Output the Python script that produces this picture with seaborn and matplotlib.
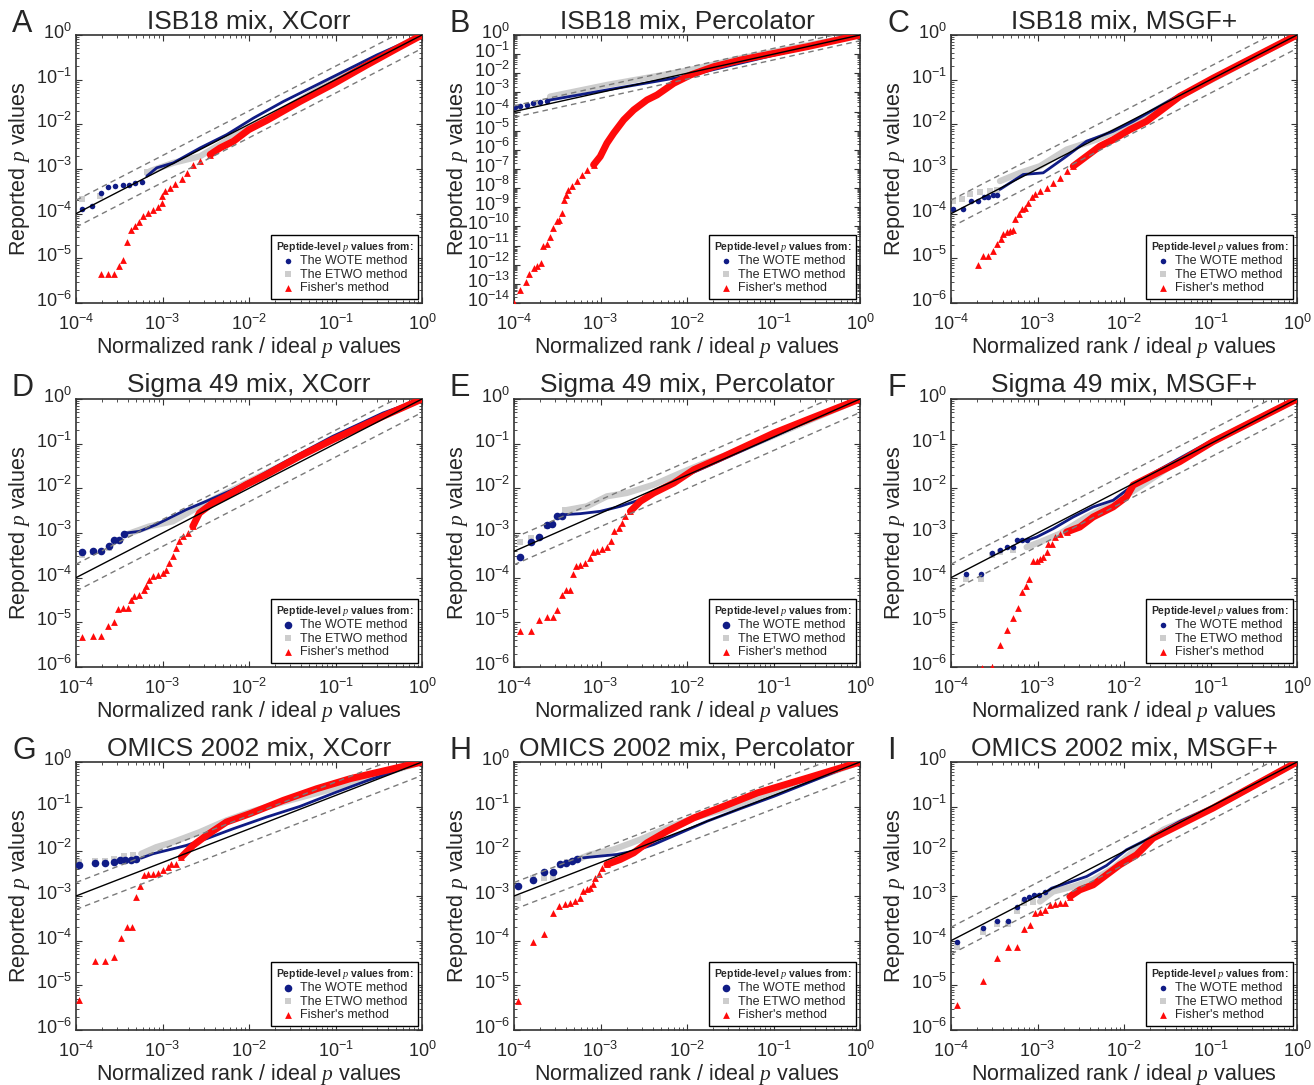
import numpy as np
import pandas as pd
import matplotlib
matplotlib.use("Agg")
import matplotlib.pyplot as plt
import matplotlib.transforms as mtransforms
import seaborn as sns
from matplotlib.ticker import LogLocator, NullFormatter, FixedLocator

# ---------------- data (log10 exponents: (x, y)) ----------------
A_wote_pts = [(-3.934,-3.889),(-3.819,-3.829),(-3.715,-3.532),(-3.626,-3.405),(-3.549,-3.383),(-3.460,-3.368),(-3.383,-3.353),(-3.317,-3.323),(-3.240,-3.286)]
A_wote_band = [(-3.182,-3.160),(-3.067,-2.974),(-2.874,-2.862),(-2.565,-2.528),(-2.257,-2.230),(-1.948,-1.859),(-1.601,-1.487),(-1.022,-0.929),(-0.521,-0.446),(0,0)]
A_etwo_pts = [(-3.934,-3.680),(-3.722,-3.606),(-3.182,-3.071)]
A_etwo_band = [(-3.144,-3.048),(-2.874,-2.862),(-2.565,-2.714),(-2.179,-2.268),(-1.794,-1.896),(-1.022,-1.004),(0,0)]
A_fisher_pts = [(-3.711,-5.353),(-3.626,-5.353),(-3.556,-5.353),(-3.502,-5.182),(-3.452,-5.033),(-3.406,-4.632),(-3.364,-4.372),(-3.317,-4.275),(-3.267,-4.186),(-3.221,-4.052),(-3.163,-3.978),(-3.105,-3.918),(-3.047,-3.844),(-3.009,-3.770),(-3.001,-3.606),(-2.970,-3.494),(-2.912,-3.420),(-2.854,-3.346),(-2.777,-3.234),(-2.719,-3.100),(-2.642,-2.900),(-2.565,-2.825),(-2.449,-2.677)]
A_fisher_band = [(-2.449,-2.677),(-2.334,-2.528),(-2.179,-2.379),(-2.002,-2.119),(-1.794,-1.911),(-1.408,-1.487),(-1.022,-1.093),(-0.636,-0.669),(-0.251,-0.260),(0,0)]

B_wote_pts = [(-3.988,-3.774),(-3.930,-3.704),(-3.853,-3.635),(-3.776,-3.565),(-3.699,-3.478),(-3.621,-3.426)]
B_wote_band = [(-3.621,-3.426),(-2.926,-2.870),(-1.998,-2.139),(-0.993,-1.050),(0,0)]
B_etwo_pts = [(-3.95,-3.85),(-3.75,-3.60)]
B_etwo_band = [(-3.583,-3.217),(-2.926,-2.609),(-1.998,-1.861),(-1.380,-1.217),(0,0)]
B_fisher_pts = [(-4.0,-14.0),(-3.930,-13.304),(-3.861,-12.922),(-3.822,-12.487),(-3.768,-12.174),(-3.737,-12.09),(-3.691,-11.913),(-3.660,-11.009),(-3.621,-10.904),(-3.583,-10.557),(-3.544,-10.087),(-3.505,-9.739),(-3.474,-9.65),(-3.447,-9.304),(-3.420,-8.609),(-3.397,-8.348),(-3.370,-8.087),(-3.331,-7.913),(-3.273,-7.652),(-3.215,-7.304),(-3.157,-7.078),(-3.080,-6.783)]
B_fisher_band = [(-3.080,-6.783),(-3.003,-6.348),(-2.926,-5.652),(-2.848,-5.130),(-2.732,-4.435),(-2.616,-3.913),(-2.462,-3.391),(-2.346,-3.130),(-2.153,-2.522),(-1.959,-2.087),(-1.689,-1.652),(-1.380,-1.304),(-0.993,-0.957),(-0.607,-0.609),(0,0)]

C_wote_pts = [(-3.981,-3.889),(-3.865,-3.889),(-3.773,-3.725),(-3.684,-3.725),(-3.619,-3.621),(-3.569,-3.621),(-3.519,-3.591),(-3.473,-3.591)]
C_wote_band = [(-3.434,-3.457),(-3.165,-3.123),(-2.934,-3.086),(-2.664,-2.714),(-2.433,-2.379),(-2.125,-2.156),(-1.894,-1.933),(-1.355,-1.338),(0,0)]
C_etwo_pts = [(-3.981,-3.717),(-3.877,-3.680),(-3.781,-3.569),(-3.665,-3.517),(-3.55,-3.50),(-3.47,-3.46)]
C_etwo_band = [(-3.434,-3.271),(-3.203,-3.086),(-2.972,-2.937),(-2.664,-2.565),(-2.318,-2.342),(-1.933,-2.007),(-1.355,-1.375),(0,0)]
C_fisher_pts = [(-3.692,-5.145),(-3.627,-4.944),(-3.569,-4.944),(-3.511,-4.833),(-3.473,-4.684),(-3.427,-4.572),(-3.396,-4.461),(-3.357,-4.42),(-3.319,-4.387),(-3.28,-4.36),(-3.261,-4.126),(-3.211,-4.015),(-3.184,-3.903),(-3.145,-3.88),(-3.107,-3.755),(-3.068,-3.621),(-3.030,-3.569),(-2.972,-3.494),(-2.895,-3.420),(-2.818,-3.309),(-2.741,-3.197),(-2.664,-3.048),(-2.587,-2.937)]
C_fisher_band = [(-2.587,-2.937),(-2.433,-2.714),(-2.279,-2.491),(-2.125,-2.342),(-1.933,-2.119),(-1.740,-1.933),(-1.355,-1.375),(-0.970,-0.967),(0,0)]

D_wote_pts = [(-3.931,-3.433),(-3.807,-3.396),(-3.711,-3.396),(-3.614,-3.299),(-3.556,-3.149),(-3.499,-3.149),(-3.441,-3.015)]
D_wote_band = [(-3.421,-3.000),(-3.267,-2.963),(-3.074,-2.813),(-2.881,-2.627),(-2.727,-2.478),(-2.496,-2.291),(-2.187,-2.030),(-1.956,-1.806),(-1.608,-1.433),(-1.030,-0.836),(-0.451,-0.313),(0,0)]
D_etwo_pts = [(-3.931,-3.485),(-3.807,-3.43),(-3.614,-3.33)]
D_etwo_band = [(-3.421,-3.037),(-3.151,-2.851),(-2.881,-2.739),(-2.573,-2.403),(-2.264,-2.104),(-2.033,-1.881),(-1.608,-1.470),(-1.030,-0.873),(0,0)]
D_fisher_pts = [(-3.931,-5.328),(-3.807,-5.313),(-3.711,-5.313),(-3.634,-5.075),(-3.556,-4.993),(-3.510,-4.701),(-3.460,-4.679),(-3.402,-4.679),(-3.364,-4.493),(-3.325,-4.418),(-3.267,-4.381),(-3.209,-4.269),(-3.190,-4.194),(-3.151,-4.045),(-3.113,-3.970),(-3.055,-3.933),(-2.997,-3.896),(-2.959,-3.821),(-2.920,-3.672),(-2.881,-3.522),(-2.843,-3.336),(-2.804,-3.187),(-2.766,-3.075),(-2.708,-3.000),(-2.650,-2.851)]
D_fisher_band = [(-2.650,-2.851),(-2.573,-2.552),(-2.419,-2.328),(-2.264,-2.179),(-2.033,-1.918),(-1.801,-1.694),(-1.416,-1.284),(-1.030,-0.910),(-0.451,-0.388),(0,0)]

E_wote_pts = [(-3.930,-3.537),(-3.807,-3.209),(-3.706,-3.090),(-3.621,-2.828),(-3.556,-2.791),(-3.505,-2.627),(-3.447,-2.612)]
E_wote_band = [(-3.428,-2.590),(-3.235,-2.567),(-3.003,-2.515),(-2.771,-2.403),(-2.539,-2.254),(-2.307,-2.030),(-2.075,-1.769),(-1.766,-1.507),(-1.380,-1.172),(-0.993,-0.836),(-0.607,-0.500),(0,0)]
E_etwo_pts = [(-3.930,-3.209),(-3.80,-3.12),(-3.621,-2.851),(-3.409,-2.493)]
E_etwo_band = [(-3.409,-2.493),(-3.157,-2.403),(-2.926,-2.179),(-2.694,-2.104),(-2.384,-1.918),(-2.075,-1.657),(-1.843,-1.470),(-1.380,-1.134),(0,0)]
E_fisher_pts = [(-3.930,-5.201),(-3.807,-5.201),(-3.706,-4.940),(-3.621,-4.888),(-3.552,-4.888),(-3.505,-4.716),(-3.447,-4.388),(-3.397,-4.269),(-3.351,-4.269),(-3.320,-3.918),(-3.281,-3.731),(-3.235,-3.709),(-3.177,-3.672),(-3.127,-3.560),(-3.088,-3.433),(-3.042,-3.410),(-2.984,-3.358),(-2.926,-3.321),(-2.879,-3.187),(-2.848,-2.963),(-2.790,-2.888),(-2.752,-2.776),(-2.713,-2.627),(-2.655,-2.515)]
E_fisher_band = [(-2.655,-2.515),(-2.539,-2.291),(-2.384,-2.104),(-2.153,-1.881),(-1.921,-1.582),(-1.573,-1.284),(-0.993,-0.761),(-0.607,-0.463),(0,0)]

F_wote_pts = [(-3.827,-3.916),(-3.657,-3.916),(-3.526,-3.443),(-3.434,-3.376),(-3.357,-3.316),(-3.280,-3.316),(-3.234,-3.166),(-3.184,-3.166),(-3.126,-3.166)]
F_wote_band = [(-3.126,-3.166),(-3.011,-3.091),(-2.818,-2.903),(-2.587,-2.641),(-2.356,-2.416),(-2.125,-2.266),(-1.971,-2.041),(-1.740,-1.740),(-1.355,-1.328),(-0.970,-0.915),(0,0)]
F_etwo_pts = [(-3.827,-4.029),(-3.657,-4.029),(-3.526,-3.503),(-3.434,-3.428),(-3.280,-3.391)]
F_etwo_band = [(-3.126,-3.316),(-2.972,-3.203),(-2.741,-3.016),(-2.433,-2.641),(-2.125,-2.341),(-1.817,-1.966),(-1.355,-1.365),(-0.970,-0.953),(0,0)]
F_fisher_pts = [(-3.646,-6.03),(-3.530,-5.99),(-3.434,-5.506),(-3.357,-5.176),(-3.288,-4.906),(-3.230,-4.681),(-3.176,-4.329),(-3.138,-4.179),(-3.095,-4.029),(-3.057,-3.631),(-3.011,-3.616),(-2.972,-3.578),(-2.934,-3.541),(-2.895,-3.428),(-2.876,-3.256),(-2.837,-3.241),(-2.799,-3.091),(-2.741,-3.031),(-2.664,-2.978)]
F_fisher_band = [(-2.664,-2.978),(-2.510,-2.866),(-2.356,-2.641),(-2.125,-2.416),(-1.971,-2.191),(-1.894,-1.928),(-1.740,-1.778),(-1.355,-1.403),(-0.970,-0.953),(0,0)]

G_wote_pts = [(-3.961,-2.317),(-3.780,-2.265),(-3.660,-2.265),(-3.556,-2.242),(-3.490,-2.205),(-3.428,-2.205),(-3.362,-2.190),(-3.304,-2.175)]
G_wote_band = [(-3.246,-2.152),(-3.111,-2.055),(-2.957,-1.981),(-2.725,-1.868),(-2.493,-1.719),(-2.184,-1.495),(-1.797,-1.233),(-1.411,-0.994),(-1.024,-0.700),(-0.638,-0.420),(0,0)]
G_etwo_pts = [(-3.961,-2.242),(-3.780,-2.220),(-3.660,-2.220),(-3.556,-2.167),(-3.440,-2.115),(-3.343,-2.093)]
G_etwo_band = [(-3.246,-2.055),(-3.072,-1.906),(-2.879,-1.794),(-2.570,-1.570),(-2.261,-1.308),(-1.990,-1.121),(-1.604,-0.897),(-1.024,-0.598),(-0.638,-0.374),(0,0)]
G_fisher_pts = [(-3.961,-5.329),(-3.780,-4.447),(-3.660,-4.447),(-3.556,-4.357),(-3.478,-3.946),(-3.413,-3.700),(-3.351,-3.700),(-3.304,-3.027),(-3.258,-2.765),(-3.219,-2.541),(-3.169,-2.504),(-3.111,-2.504),(-3.053,-2.489),(-2.995,-2.429),(-2.937,-2.354),(-2.899,-2.294),(-2.841,-2.294),(-2.783,-2.130)]
G_fisher_band = [(-2.783,-2.130),(-2.647,-1.868),(-2.493,-1.644),(-2.261,-1.345),(-1.990,-1.158),(-1.604,-0.859),(-1.217,-0.598),(-0.831,-0.374),(0,0)]

H_wote_pts = [(-3.950,-2.777),(-3.776,-2.651),(-3.652,-2.457),(-3.552,-2.457),(-3.467,-2.278),(-3.397,-2.256),(-3.331,-2.219),(-3.266,-2.182)]
H_wote_band = [(-3.196,-2.144),(-3.003,-2.107),(-2.810,-2.070),(-2.616,-1.996),(-2.384,-1.847),(-2.075,-1.586),(-1.766,-1.325),(-1.380,-1.042),(-0.993,-0.767),(-0.607,-0.469),(0,0)]
H_etwo_pts = [(-3.950,-3.038),(-3.776,-2.591),(-3.652,-2.59),(-3.552,-2.576),(-3.467,-2.30),(-3.39,-2.23)]
H_etwo_band = [(-3.312,-2.219),(-3.119,-2.070),(-2.848,-1.958),(-2.539,-1.735),(-2.230,-1.474),(-1.921,-1.251),(-1.380,-0.953),(0,0)]
H_fisher_pts = [(-3.950,-5.361),(-3.776,-4.021),(-3.652,-3.857),(-3.552,-3.373),(-3.474,-3.232),(-3.409,-3.172),(-3.351,-3.150),(-3.293,-3.112),(-3.242,-3.038),(-3.204,-2.889),(-3.157,-2.852),(-3.119,-2.815),(-3.088,-2.740),(-3.061,-2.591),(-3.022,-2.517),(-2.984,-2.368),(-2.926,-2.293)]
H_fisher_band = [(-2.926,-2.293),(-2.771,-2.182),(-2.616,-2.033),(-2.462,-1.809),(-2.230,-1.549),(-1.921,-1.251),(-1.573,-0.990),(-1.187,-0.692),(-0.607,-0.357),(0,0)]

I_wote_pts = [(-3.935,-4.036),(-3.634,-3.722),(-3.465,-3.550),(-3.338,-3.550),(-3.242,-3.236),(-3.157,-3.072),(-3.095,-3.012),(-3.041,-2.975),(-2.980,-2.975),(-2.914,-2.915)]
I_wote_band = [(-2.876,-2.880),(-2.837,-2.825),(-2.664,-2.713),(-2.433,-2.564),(-2.202,-2.317),(-1.971,-1.966),(-1.740,-1.741),(-1.355,-1.330),(-0.970,-0.994),(0,0)]
I_etwo_pts = [(-3.935,-4.133),(-3.634,-3.812),(-3.465,-3.632),(-3.338,-3.632),(-3.242,-3.333),(-3.157,-3.161),(-3.049,-3.124)]
I_etwo_band = [(-2.972,-3.124),(-2.818,-2.900),(-2.587,-2.788),(-2.356,-2.638),(-2.125,-2.377),(-1.894,-2.003),(-1.548,-1.517),(-0.970,-1.031),(0,0)]
I_fisher_pts = [(-3.927,-5.441),(-3.634,-4.903),(-3.465,-4.395),(-3.338,-4.133),(-3.234,-4.133),(-3.157,-3.737),(-3.088,-3.647),(-3.030,-3.386),(-2.972,-3.348),(-2.914,-3.311),(-2.857,-3.199),(-2.799,-3.184),(-2.741,-3.161),(-2.683,-3.161),(-2.626,-3.012)]
I_fisher_band = [(-2.626,-3.012),(-2.510,-2.862),(-2.356,-2.750),(-2.202,-2.526),(-2.048,-2.302),(-1.855,-2.078),(-1.663,-1.704),(-1.432,-1.480),(-0.970,-1.031),(0,0)]

letters = ["A", "B", "C", "D", "E", "F", "G", "H", "I"]
titles = ["ISB18 mix, XCorr", "ISB18 mix, Percolator", "ISB18 mix, MSGF+",
          "Sigma 49 mix, XCorr", "Sigma 49 mix, Percolator", "Sigma 49 mix, MSGF+",
          "OMICS 2002 mix, XCorr", "OMICS 2002 mix, Percolator", "OMICS 2002 mix, MSGF+"]
# reference line: log10 y at x = 1e-4 (runs to (1, 1))
diag_start = [-4.0, -4.0, -4.0, -4.0, -3.41, -4.0, -3.0, -3.0, -4.0]
ymin_exp = [-6, -14, -6, -6, -6, -6, -6, -6, -6]
xmin_exp = -4
dash_offsets = [np.log10(2.0), np.log10(0.5)]
series_labels = ["The WOTE method", "The ETWO method", "Fisher's method"]

wote_pts = [A_wote_pts, B_wote_pts, C_wote_pts, D_wote_pts, E_wote_pts, F_wote_pts, G_wote_pts, H_wote_pts, I_wote_pts]
wote_band = [A_wote_band, B_wote_band, C_wote_band, D_wote_band, E_wote_band, F_wote_band, G_wote_band, H_wote_band, I_wote_band]
etwo_pts = [A_etwo_pts, B_etwo_pts, C_etwo_pts, D_etwo_pts, E_etwo_pts, F_etwo_pts, G_etwo_pts, H_etwo_pts, I_etwo_pts]
etwo_band = [A_etwo_band, B_etwo_band, C_etwo_band, D_etwo_band, E_etwo_band, F_etwo_band, G_etwo_band, H_etwo_band, I_etwo_band]
fisher_pts = [A_fisher_pts, B_fisher_pts, C_fisher_pts, D_fisher_pts, E_fisher_pts, F_fisher_pts, G_fisher_pts, H_fisher_pts, I_fisher_pts]
fisher_band = [A_fisher_band, B_fisher_band, C_fisher_band, D_fisher_band, E_fisher_band, F_fisher_band, G_fisher_band, H_fisher_band, I_fisher_band]

# ---------------- style ----------------
sns.set_style("ticks")
plt.rcParams["font.family"] = ["Liberation Sans", "DejaVu Sans"]
plt.rcParams["mathtext.fontset"] = "custom"
plt.rcParams["mathtext.rm"] = "Liberation Sans"
plt.rcParams["mathtext.it"] = "Liberation Serif:italic"
plt.rcParams["axes.edgecolor"] = "#333333"
plt.rcParams["axes.linewidth"] = 1.2

BLUE = "#101c86"
GRAY = "#cdcdcd"
RED = "#ff0a0a"

W, H = 1314, 1085
fig = plt.figure(figsize=(W / 100, H / 100), dpi=100)

col_left = [76, 514, 951]
row_top = [35, 399, 762]
AX_W, AX_H = 346, 268


def to_xy(pairs):
    arr = np.array(pairs, dtype=float)
    return np.power(10.0, arr[:, 0]), np.power(10.0, arr[:, 1])


def minor_ticks(lo_exp):
    return [m * 10.0 ** e for e in range(lo_exp, 0) for m in range(2, 10)]


axes = []
for i in range(9):
    r, c = divmod(i, 3)
    l = col_left[c] / W
    b = 1 - (row_top[r] + AX_H) / H
    ax = fig.add_axes([l, b, AX_W / W, AX_H / H])
    axes.append(ax)
    big = i in (3, 4, 6, 7)

    # gray (ETWO)
    bx, by = to_xy(etwo_band[i])
    sns.lineplot(x=bx, y=by, ax=ax, color=GRAY, lw=4.5, sort=False, estimator=None,
                 zorder=2, solid_capstyle="round")
    px, py = to_xy(etwo_pts[i])
    sns.scatterplot(x=px, y=py, ax=ax, color=GRAY, marker="s", s=20, linewidth=0,
                    zorder=2.1, label=series_labels[1])
    # blue (WOTE)
    bx, by = to_xy(wote_band[i])
    sns.lineplot(x=bx, y=by, ax=ax, color=BLUE, lw=2.0, sort=False, estimator=None,
                 zorder=3, solid_capstyle="round")
    px, py = to_xy(wote_pts[i])
    sns.scatterplot(x=px, y=py, ax=ax, color=BLUE, marker="o", s=30 if big else 16,
                    linewidth=0, zorder=3.1, label=series_labels[0])
    # red (Fisher)
    bx, by = to_xy(fisher_band[i])
    sns.lineplot(x=bx, y=by, ax=ax, color=RED, lw=5, sort=False, estimator=None,
                 zorder=4, solid_capstyle="round")
    px, py = to_xy(fisher_pts[i])
    sns.scatterplot(x=px, y=py, ax=ax, color=RED, marker="^", s=24, linewidth=0,
                    zorder=4.1, label=series_labels[2])

    # reference lines
    dx = np.array([-4.0, 0.0])
    dy = np.array([diag_start[i], 0.0])
    for off in dash_offsets:
        sns.lineplot(x=10 ** dx, y=10 ** (dy + off), ax=ax, color="#7a7a7a", lw=1.0,
                     linestyle=(0, (4, 3)), sort=False, estimator=None, zorder=5)
    sns.lineplot(x=10 ** dx, y=10 ** dy, ax=ax, color="black", lw=1.0,
                 sort=False, estimator=None, zorder=6)

    ax.set_xscale("log")
    ax.set_yscale("log")
    ax.set_xlim(10.0 ** xmin_exp, 1)
    ax.set_ylim(10.0 ** ymin_exp[i], 1)
    # only ticks inside the view (no hidden off-axis labels)
    ax.xaxis.set_major_locator(FixedLocator(10.0 ** np.arange(xmin_exp, 1)))
    ax.yaxis.set_major_locator(FixedLocator(10.0 ** np.arange(ymin_exp[i], 1)))
    ax.xaxis.set_minor_locator(FixedLocator(minor_ticks(xmin_exp)))
    ax.yaxis.set_minor_locator(FixedLocator(minor_ticks(ymin_exp[i])))
    ax.xaxis.set_minor_formatter(NullFormatter())
    ax.yaxis.set_minor_formatter(NullFormatter())
    ax.tick_params(which="both", direction="in", top=True, right=True, color="#333333")
    ax.tick_params(which="major", length=4, width=0.8, labelsize=13)
    ax.tick_params(axis="x", which="major", pad=7.5)
    ax.tick_params(axis="y", which="major", pad=3)
    ax.tick_params(which="minor", length=2, width=0.6)

    ax.set_xlabel("Normalized rank / ideal $p$ values", fontsize=15.5)
    ax.set_ylabel("Reported $p$ values", fontsize=15.5)
    ax.xaxis.set_label_coords(0.5, -0.12)
    ax.yaxis.set_label_coords(-0.128, 0.5)
    ax.set_title(titles[i], fontsize=19, pad=5)

    fig.text((col_left[c] - 64) / W, 1 - (row_top[r] - 11) / H, letters[i],
             fontsize=22, ha="left", va="center")

    handles, labels = ax.get_legend_handles_labels()
    hmap = dict(zip(labels, handles))
    leg = ax.legend([hmap[s] for s in series_labels], series_labels,
                    title="Peptide-level $p$ values from:", loc="lower right",
                    fontsize=9, title_fontsize=7.5, frameon=True, fancybox=False,
                    framealpha=1, edgecolor="black", borderpad=0.35,
                    labelspacing=0.12, handletextpad=0.5, handlelength=1.0,
                    borderaxespad=0.35)
    leg.get_frame().set_linewidth(1.0)
    leg.get_title().set_fontweight("bold")

# nudge y tick labels up so the "10" sits on the tick (as in the reference)
fig.canvas.draw()
shift = mtransforms.ScaledTranslation(0, 4 / 100, fig.dpi_scale_trans)
for ax in axes:
    for t in ax.yaxis.get_major_ticks():
        t.label1.set_transform(t.label1.get_transform() + shift)

fig.savefig("out.png", dpi=100)
